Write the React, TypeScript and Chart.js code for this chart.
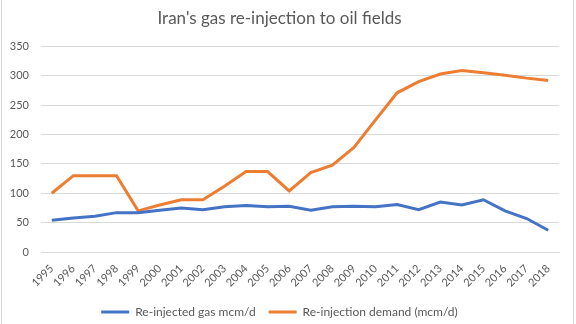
import { useEffect, useRef } from "react";
import { Chart, registerables } from "chart.js";

Chart.register(...registerables);

const years = [
  "1995", "1996", "1997", "1998", "1999", "2000", "2001", "2002",
  "2003", "2004", "2005", "2006", "2007", "2008", "2009", "2010",
  "2011", "2012", "2013", "2014", "2015", "2016", "2017", "2018",
];
const reinjectedGas = [
  54, 58, 61, 67, 67, 71, 75, 72, 77, 79, 77, 78,
  71, 77, 78, 77, 81, 72, 85, 80, 89, 70, 57, 37,
];
const reinjectionDemand = [
  100, 130, 130, 130, 70, 80, 89, 89, 112, 137, 137, 104,
  135, 148, 178, 225, 271, 290, 303, 309, 305, 301, 296, 292,
];
const yMin = 0;
const yMax = 350;
const yStep = 50;

const TEXT = "#595959";
const FONT = "Lato, 'Open Sans', sans-serif";

export default function App() {
  const ref = useRef<HTMLCanvasElement>(null);
  useEffect(() => {
    const chart = new Chart(ref.current!, {
      type: "line",
      data: {
        labels: years,
        datasets: [
          {
            label: "Re-injected gas mcm/d",
            data: reinjectedGas,
            borderColor: "#4472C4",
            backgroundColor: "#4472C4",
            borderWidth: 3,
            pointRadius: 0,
            tension: 0,
          },
          {
            label: "Re-injection demand (mcm/d)",
            data: reinjectionDemand,
            borderColor: "#ED7D31",
            backgroundColor: "#ED7D31",
            borderWidth: 3,
            pointRadius: 0,
            tension: 0,
          },
        ],
      },
      options: {
        responsive: false,
        animation: false,
        layout: { padding: { left: 0, right: 17, top: 0, bottom: -4 } },
        plugins: {
          title: {
            display: true,
            text: "Iran's gas re-injection to oil fields",
            color: TEXT,
            font: { family: FONT, size: 17, weight: "normal" },
            padding: { top: 8, bottom: 18 },
          },
          legend: {
            position: "bottom",
            labels: {
              color: TEXT,
              font: { family: FONT, size: 12 },
              usePointStyle: true,
              pointStyle: "line",
              pointStyleWidth: 28,
              boxHeight: 11,
              padding: 13,
            },
          },
          tooltip: { enabled: false },
        },
        scales: {
          x: {
            offset: true,
            grid: { display: false, drawTicks: false },
            border: { display: true, color: "#d9d9d9" },
            ticks: {
              color: TEXT,
              font: { family: FONT, size: 11 },
              maxRotation: 45,
              minRotation: 45,
              autoSkip: false,
              padding: 10,
            },
            afterFit: (s: any) => {
              s.height = 41;
            },
          },
          y: {
            min: yMin,
            max: yMax,
            grid: { color: "#d9d9d9", drawTicks: false },
            border: { display: false },
            ticks: {
              stepSize: yStep,
              color: TEXT,
              font: { family: FONT, size: 11 },
              padding: 12,
            },
            afterFit: (s: any) => {
              s.width = 41;
            },
          },
        },
      },
    });
    return () => chart.destroy();
  }, []);
  return (
    <div
      style={{
        position: "fixed",
        left: 0,
        top: 0,
        width: 576,
        height: 324,
        background: "#fff",
        overflow: "hidden",
      }}
    >
      <canvas ref={ref} width={576} height={324} style={{ display: "block" }} />
      <div style={{ position: "absolute", left: 1, top: 0, width: 1, height: 324, background: "#d9d9d9" }} />
      <div style={{ position: "absolute", left: 573, top: 0, width: 1, height: 324, background: "#d9d9d9" }} />
    </div>
  );
}
